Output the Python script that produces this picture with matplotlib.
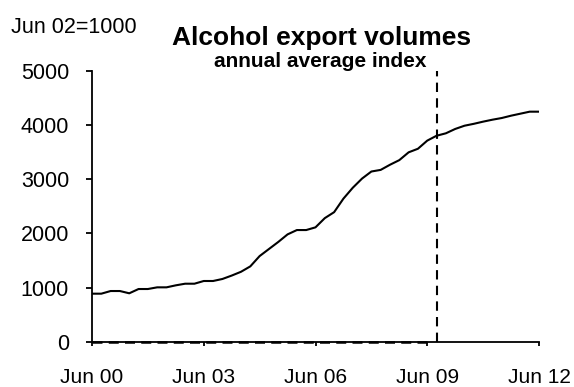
import matplotlib
matplotlib.use("Agg")
import matplotlib.pyplot as plt
import numpy as np

plt.rcParams['font.family'] = ['Liberation Sans', 'DejaVu Sans']

# Quarterly index, Jun 2000 .. Jun 2012 (Jun 02 = 1000)
start_year = 2000.5
index_values = [886, 886, 935, 935, 893, 972, 972, 1003, 1003, 1040,
                1070, 1070, 1120, 1120, 1157, 1220, 1290, 1390, 1580, 1710,
                1840, 1980, 2060, 2060, 2110, 2280, 2390, 2640, 2840, 3010,
                3140, 3170, 3265, 3350, 3494, 3560, 3710, 3800, 3845, 3925,
                3985, 4020, 4060, 4096, 4127, 4170, 4207, 4244, 4244]
forecast_start = 2009.75
zero_line_end = 2009.5

tick_positions = [2000.5, 2003.5, 2006.5, 2009.5, 2012.5]
tick_labels = ["Jun 00", "Jun 03", "Jun 06", "Jun 09", "Jun 12"]
y_ticks = [0, 1000, 2000, 3000, 4000, 5000]

dates = start_year + 0.25 * np.arange(len(index_values))

W, H = 574, 387
fig = plt.figure(figsize=(W / 100, H / 100), dpi=100)
ax = fig.add_axes([92 / W, 1 - 341.7 / H, (539 - 92) / W, (341.7 - 70.7) / H])

ax.plot(dates, index_values, color='black', linewidth=1.5, solid_joinstyle='round')
ax.plot([start_year, zero_line_end], [0, 0], color='black', linewidth=1.8,
        linestyle=(0, (4, 2.5)), clip_on=False)
ax.plot([forecast_start, forecast_start], [0, 5000], color='black', linewidth=1.5,
        linestyle=(0, (4.5, 3)), clip_on=False)

ax.set_xlim(tick_positions[0], tick_positions[-1])
ax.set_ylim(0, 5000)
ax.set_xticks(tick_positions)
ax.set_xticklabels(tick_labels)
ax.set_yticks(y_ticks)

for side in ('top', 'right'):
    ax.spines[side].set_visible(False)
for side in ('left', 'bottom'):
    ax.spines[side].set_linewidth(1.3)

ax.tick_params(axis='x', direction='out', length=3, width=1.3, pad=16, labelsize=15)
ax.tick_params(axis='y', direction='out', length=4, width=1.3, pad=12.5, labelsize=15.5)

fig.text(11 / W, 1 - 33 / H, "Jun 02=1000", fontsize=15.5, ha='left', va='baseline')
fig.text(321.5 / W, 1 - 45 / H, "Alcohol export volumes", fontsize=19,
         fontweight='bold', ha='center', va='baseline')
fig.text(320 / W, 1 - 67 / H, "annual average index", fontsize=15,
         fontweight='bold', ha='center', va='baseline')

fig.savefig("out.png", dpi=100)
